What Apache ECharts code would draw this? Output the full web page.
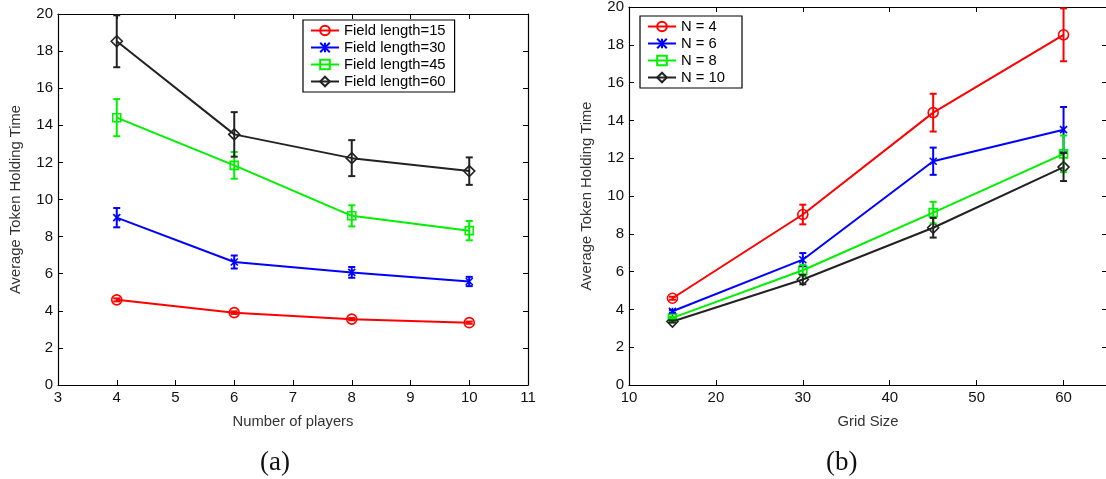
<!DOCTYPE html>
<html>
<head>
<meta charset="utf-8">
<script src="https://cdn.jsdelivr.net/npm/echarts@6/dist/echarts.min.js"></script>
<style>
  html, body { margin: 0; padding: 0; background: #fff; }
  #main { width: 1106px; height: 479px; }
</style>
</head>
<body>
<div id="main"></div>
<script>
// x values of the two panels
var players = [4, 6, 8, 10];
var gridSizes = [15, 30, 45, 60];

// mean token holding time, one array per field length (values over players 4,6,8,10)
var mean15 = [4.59, 3.90, 3.55, 3.36];
var mean30 = [9.02, 6.63, 6.07, 5.58];
var mean45 = [14.41, 11.84, 9.12, 8.32];
var mean60 = [18.53, 13.51, 12.23, 11.53];

// half width of the error bars
var err15 = [0.08, 0.07, 0.06, 0.06];
var err30 = [0.52, 0.35, 0.29, 0.25];
var err45 = [1.00, 0.72, 0.57, 0.52];
var err60 = [1.40, 1.20, 0.97, 0.74];

var namesA = ['Field length=15', 'Field length=30', 'Field length=45', 'Field length=60'];
var namesB = ['N = 4', 'N = 6', 'N = 8', 'N = 10'];

var colors = ['#ff0000', '#0000ff', '#00f000', '#222222'];
var symbols = ['circle', 'path://M0,0L10,10M10,0L0,10M5,0L5,10', 'rect', 'diamond'];
var symbolSizes = [10, 7, 8, 11];

var means = [mean15, mean30, mean45, mean60];
var errs = [err15, err30, err45, err60];

var font = 'Liberation Sans, Arial, Helvetica, sans-serif';

function lineSeries(name, xs, ys, k, gi) {
  return {
    name: name,
    type: 'line',
    xAxisIndex: gi * 2,
    yAxisIndex: gi * 2,
    data: xs.map(function (x, i) { return [x, ys[i]]; }),
    symbol: symbols[k],
    symbolSize: symbolSizes[k],
    showAllSymbol: true,
    lineStyle: { color: colors[k], width: 2 },
    itemStyle: { color: 'rgba(255,255,255,0)', borderColor: colors[k], borderWidth: 1.6 },
    z: 3
  };
}

function errorSeries(xs, ys, es, k, gi) {
  var col = colors[k];
  return {
    type: 'custom',
    xAxisIndex: gi * 2,
    yAxisIndex: gi * 2,
    data: xs.map(function (x, i) { return [x, ys[i] - es[i], ys[i] + es[i]]; }),
    encode: { x: 0, y: [1, 2] },
    renderItem: function (params, api) {
      var top = api.coord([api.value(0), api.value(2)]);
      var bot = api.coord([api.value(0), api.value(1)]);
      var w = 3.5;
      var st = { stroke: col, lineWidth: 2 };
      return {
        type: 'group',
        children: [
          { type: 'line', shape: { x1: top[0], y1: top[1], x2: bot[0], y2: bot[1] }, style: st },
          { type: 'line', shape: { x1: top[0] - w, y1: top[1], x2: top[0] + w, y2: top[1] }, style: st },
          { type: 'line', shape: { x1: bot[0] - w, y1: bot[1], x2: bot[0] + w, y2: bot[1] }, style: st }
        ]
      };
    },
    z: 4,
    silent: true
  };
}

function axisPair(kind, gi, min, max, interval, name, nameGap) {
  var common = {
    gridIndex: gi,
    type: 'value',
    min: min,
    max: max,
    interval: interval,
    splitLine: { show: false },
    axisLine: { show: true, onZero: false, lineStyle: { color: '#000', width: 1.2 } },
    axisTick: { show: true, inside: true, length: 5, lineStyle: { color: '#000', width: 1 } }
  };
  var main = Object.assign({}, common, {
    position: kind === 'x' ? 'bottom' : 'left',
    name: name,
    nameLocation: 'middle',
    nameGap: nameGap,
    nameTextStyle: { color: '#333', fontSize: 14.8, fontFamily: font },
    axisLabel: { color: '#111', fontSize: 15, fontFamily: font, margin: 5, showMaxLabel: !(gi === 1 && kind === 'x') }
  });
  var opp = Object.assign({}, common, {
    position: kind === 'x' ? 'top' : 'right',
    axisLabel: { show: false }
  });
  return [main, opp];
}

var series = [];
for (var k = 0; k < 4; k++) {
  series.push(lineSeries(namesA[k], players, means[k], k, 0));
  series.push(errorSeries(players, means[k], errs[k], k, 0));
}
// panel (b): transpose, one series per player count
for (var j = 0; j < 4; j++) {
  var ys = means.map(function (row) { return row[j]; });
  var es = errs.map(function (row) { return row[j]; });
  series.push(lineSeries(namesB[j], gridSizes, ys, j, 1));
  series.push(errorSeries(gridSizes, ys, es, j, 1));
}

var xa = axisPair('x', 0, 3, 11, 1, 'Number of players', 29);
var xb = axisPair('x', 1, 10, 65, 10, 'Grid Size', 29);
var ya = axisPair('y', 0, 0, 20, 2, 'Average Token Holding Time', 35);
var yb = axisPair('y', 1, 0, 20, 2, 'Average Token Holding Time', 35);

var legendBase = {
  orient: 'vertical',
  backgroundColor: '#fff',
  borderColor: '#000',
  borderWidth: 1.2,
  borderRadius: 0,
  itemWidth: 28,
  itemHeight: 12,
  itemGap: 2,
  itemTextGap: 7,
  textStyle: { color: '#000', fontSize: 14.8, fontFamily: font },
  selectedMode: false
};

var myChart = echarts.init(document.getElementById('main'));
var option = {
  animation: false,
  backgroundColor: '#fff',
  grid: [
    { left: 58, top: 14, width: 470, height: 371, outerBoundsMode: 'none' },
    { left: 629, top: 7, width: 478, height: 378, outerBoundsMode: 'none' }
  ],
  xAxis: [xa[0], xa[1], xb[0], xb[1]],
  yAxis: [ya[0], ya[1], yb[0], yb[1]],
  legend: [
    Object.assign({}, legendBase, { data: namesA, left: 303, top: 20, padding: [3, 9, 3, 7] }),
    Object.assign({}, legendBase, { data: namesB, left: 640, top: 16, padding: [3, 17, 3, 7] })
  ],
  graphic: [
    { type: 'text', left: 260, top: 449, style: { text: '(a)', fontSize: 27, fontFamily: 'Liberation Serif, Times New Roman, serif', fill: '#111' } },
    { type: 'text', left: 826, top: 449, style: { text: '(b)', fontSize: 27, fontFamily: 'Liberation Serif, Times New Roman, serif', fill: '#111' } }
  ],
  series: series
};
myChart.setOption(option);
</script>
</body>
</html>
